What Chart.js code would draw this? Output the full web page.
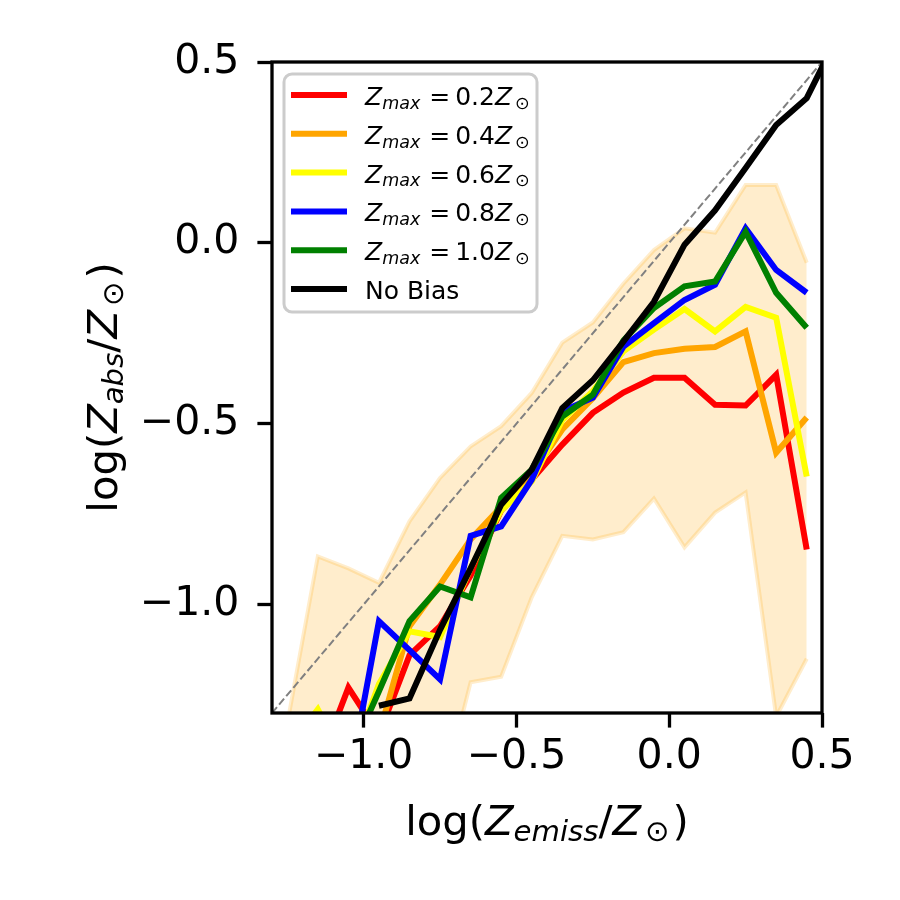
<!DOCTYPE html>
<html>
<head>
<meta charset="utf-8">
<script src="https://cdn.jsdelivr.net/npm/chart.js@4.4.1/dist/chart.umd.min.js"></script>
<style>
  html, body { margin: 0; padding: 0; background: #fff; }
  #chart { display: block; }
</style>
</head>
<body>
<canvas id="chart" width="900" height="900"></canvas>
<script>
// bin centres of log(Z_emiss / Z_sun)
var xBins = [-1.25, -1.15, -1.05, -0.95, -0.85, -0.75, -0.65, -0.55, -0.45, -0.35,
             -0.25, -0.15, -0.05, 0.05, 0.15, 0.25, 0.35, 0.45, 0.55];
var zmaxLabels = ['0.2', '0.4', '0.6', '0.8', '1.0'];

var red    = [null, -1.45, -1.23, -1.36, -1.14, -1.06, -0.92, -0.74, -0.655, -0.558,
              -0.47, -0.414, -0.373, -0.373, -0.448, -0.45, -0.365, -0.848, null];
var orange = [null, null, null, -1.36, -1.06, -0.945, -0.82, -0.73, -0.64, -0.516,
              -0.43, -0.33, -0.305, -0.293, -0.288, -0.245, -0.58, -0.483, null];
var yellow = [-1.40, -1.29, -1.45, -1.22, -1.074, -1.09, -0.90, -0.74, -0.66, -0.49,
              -0.41, -0.30, -0.24, -0.183, -0.245, -0.177, -0.207, -0.646, null];
var blue   = [null, null, -1.50, -1.046, -1.126, -1.207, -0.81, -0.784, -0.655, -0.466,
              -0.428, -0.287, -0.222, -0.158, -0.116, 0.04, -0.075, -0.138, null];
var green  = [null, null, -1.43, -1.24, -1.046, -0.95, -0.98, -0.705, -0.627, -0.48,
              -0.42, -0.27, -0.18, -0.12, -0.107, 0.03, -0.138, -0.235, null];
var noBias = [null, null, null, -1.28, -1.26, -1.07, -0.90, -0.724, -0.627, -0.457,
              -0.38, -0.273, -0.163, -0.005, 0.09, 0.207, 0.326, 0.40, 0.57];

// shaded spread
var bandHi = [-1.33, -0.867, -0.90, -0.94, -0.77, -0.65, -0.563, -0.507, -0.415, -0.276,
              -0.22, -0.113, -0.02, 0.04, 0.028, 0.16, 0.16, -0.055, null];
var bandLo = [-2.0, -2.0, -2.0, -2.0, -2.0, -1.55, -1.215, -1.20, -0.98, -0.81,
              -0.82, -0.80, -0.707, -0.842, -0.746, -0.69, -1.31, -1.15, null];

// one-to-one line
var diagX = [-1.3, 0.5];

var tickVals = [-1.0, -0.5, 0.0, 0.5];

function pts(ys) {
    return xBins.map(function (x, i) { return { x: x, y: ys[i] }; });
}

function line(label, ys, color, order) {
    return {
        label: label,
        data: pts(ys),
        borderColor: color,
        backgroundColor: color,
        borderWidth: 6,
        pointRadius: 0,
        tension: 0,
        fill: false,
        clip: 0,
        order: order
    };
}

var seriesColors = ['#ff0000', '#ffa500', '#ffff00', '#0000ff', '#008000', '#000000'];
var seriesData = [red, orange, yellow, blue, green, noBias];
var seriesLabels = zmaxLabels.map(function (v) { return 'Z_max = ' + v + 'Z_\u2299'; });
seriesLabels.push('No Bias');

var datasets = [
    {
        label: 'spread low',
        data: pts(bandLo),
        borderColor: 'rgba(255,165,0,0.2)',
        borderWidth: 4,
        pointRadius: 0,
        fill: false,
        clip: 0,
        order: 20
    },
    {
        label: 'spread high',
        data: pts(bandHi),
        borderColor: 'rgba(255,165,0,0.2)',
        backgroundColor: 'rgba(255,165,0,0.2)',
        borderWidth: 4,
        pointRadius: 0,
        fill: '-1',
        clip: 0,
        order: 19
    },
    {
        label: 'one to one',
        data: diagX.map(function (v) { return { x: v, y: v }; }),
        borderColor: '#808080',
        borderWidth: 2,
        borderDash: [7.7, 3.3],
        pointRadius: 0,
        fill: false,
        clip: 0,
        order: 10
    }
];
for (var i = 0; i < seriesData.length; i++) {
    datasets.push(line(seriesLabels[i], seriesData[i], seriesColors[i], 6 - i));
}

// draw mixed normal / italic / subscript text
function richParts(ctx, parts, size, draw, x, y) {
    var w = 0;
    parts.forEach(function (p) {
        var sub = p[1].indexOf('s') >= 0;
        var it = p[1].indexOf('i') >= 0;
        var s = sub ? size * 0.7 : size;
        ctx.font = (it ? 'italic ' : '') + s + 'px "DejaVu Sans"';
        w += p[2] || 0;
        if (draw) ctx.fillText(p[0], x + w, y + (sub ? size * 0.15 : 0));
        w += ctx.measureText(p[0]).width;
    });
    return w;
}

function drawRich(ctx, parts, x, y, size, center) {
    var w = richParts(ctx, parts, size, false);
    if (center) x -= w / 2;
    richParts(ctx, parts, size, true, x, y);
}

var annotate = {
    id: 'annotate',
    afterDraw: function (chart) {
        var ctx = chart.ctx, a = chart.chartArea;
        ctx.save();

        // axes frame
        ctx.strokeStyle = '#000';
        ctx.lineWidth = 3.3;
        ctx.strokeRect(a.left, a.top, a.right - a.left, a.bottom - a.top);

        // legend
        ctx.fillStyle = 'rgba(255,255,255,0.8)';
        ctx.strokeStyle = '#cccccc';
        ctx.lineWidth = 3;
        ctx.beginPath();
        ctx.roundRect(284, 74, 253, 238, 8);
        ctx.fill();
        ctx.stroke();

        ctx.textBaseline = 'alphabetic';
        ctx.textAlign = 'left';
        for (var i = 0; i < seriesLabels.length; i++) {
            var yy = 95 + i * 38.8;
            ctx.strokeStyle = seriesColors[i];
            ctx.lineWidth = 6;
            ctx.beginPath();
            ctx.moveTo(291, yy);
            ctx.lineTo(347, yy);
            ctx.stroke();
            ctx.fillStyle = '#000';
            var parts;
            if (i < zmaxLabels.length) {
                parts = [['Z', 'i'], ['max', 'si'], ['=', 'n', 9], [zmaxLabels[i], 'n', 5],
                         ['Z', 'i'], ['\u2299', 'sn', 3]];
            } else {
                parts = [['No Bias', 'n']];
            }
            drawRich(ctx, parts, 365, yy + 10, 25, false);
        }

        // axis titles
        ctx.fillStyle = '#000';
        var cx = (a.left + a.right) / 2;
        drawRich(ctx, [['log(', 'n'], ['Z', 'i'], ['emiss', 'si'], ['/', 'n'], ['Z', 'i'],
                       ['\u2299', 'sn', 4], [')', 'n', 3]], cx, 835, 41.7, true);

        var cy = (a.top + a.bottom) / 2;
        ctx.translate(117, cy);
        ctx.rotate(-Math.PI / 2);
        drawRich(ctx, [['log(', 'n'], ['Z', 'i'], ['abs', 'si'], ['/', 'n'], ['Z', 'i'],
                       ['\u2299', 'sn', 4], [')', 'n', 3]], 0, 0, 41.7, true);
        ctx.restore();
    }
};

function fmt(v) {
    return (v < 0 ? '\u2212' : '') + Math.abs(v).toFixed(1);
}

function axis(fit) {
    return {
        type: 'linear',
        min: -1.3,
        max: 0.5,
        afterBuildTicks: function (scale) {
            scale.ticks = tickVals.map(function (v) { return { value: v }; });
        },
        afterFit: fit,
        border: { display: false },
        grid: {
            display: true,
            drawOnChartArea: false,
            drawTicks: true,
            tickLength: 14.6,
            tickWidth: 3.3,
            tickColor: '#000'
        },
        ticks: {
            autoSkip: false,
            maxRotation: 0,
            color: '#000',
            font: { family: 'DejaVu Sans', size: 41 },
            callback: fmt
        }
    };
}

var xAxis = axis(function (scale) { scale.height = 187; });
xAxis.ticks.padding = 5;
var yAxis = axis(function (scale) { scale.width = 272; });
yAxis.ticks.padding = 18;

Chart.defaults.font.family = 'DejaVu Sans';

var chart = new Chart(document.getElementById('chart').getContext('2d'), {
    type: 'line',
    data: { datasets: datasets },
    options: {
        responsive: false,
        animation: false,
        devicePixelRatio: 1,
        layout: { padding: { top: 62, right: 78, left: 0, bottom: 0 } },
        plugins: {
            legend: { display: false },
            tooltip: { enabled: false }
        },
        scales: { x: xAxis, y: yAxis }
    },
    plugins: [annotate]
});
</script>
</body>
</html>
